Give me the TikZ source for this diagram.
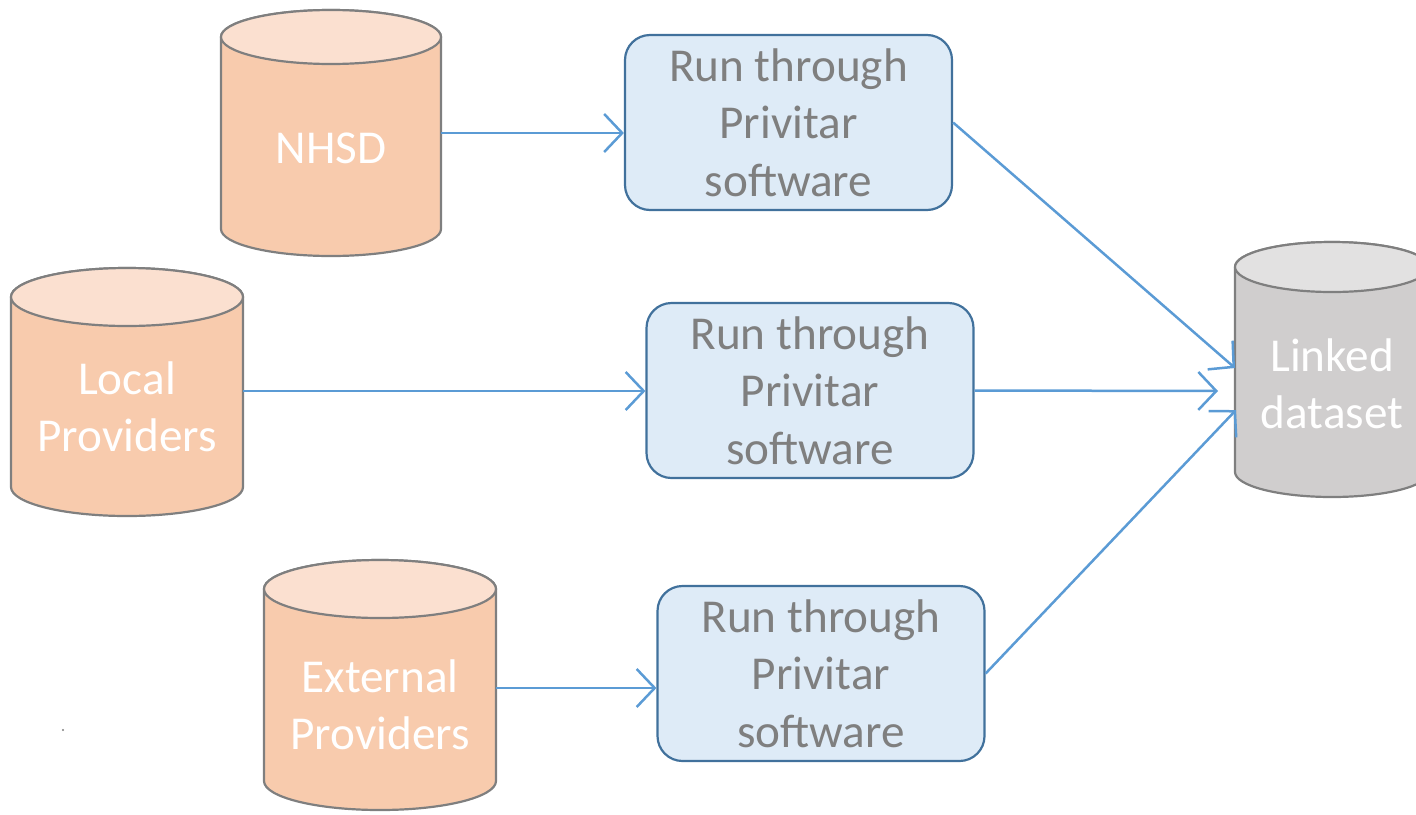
\documentclass[tikz,border=0pt]{standalone}
\usepackage{fontspec}
\setmainfont{Carlito}
\usetikzlibrary{arrows.meta,calc}
\definecolor{peach}{HTML}{F8CBAD}
\definecolor{peachtop}{HTML}{FBE0D0}
\definecolor{greybody}{HTML}{D0CECE}
\definecolor{greytop}{HTML}{E2E1E1}
\definecolor{cylline}{HTML}{7F7F7F}
\definecolor{boxfill}{HTML}{DEEBF7}
\definecolor{boxline}{HTML}{41719C}
\definecolor{arrowc}{HTML}{5B9BD5}
\definecolor{txtgrey}{HTML}{7F7F7F}
% #1 cx, #2 ytop, #3 ybot, #4 rx, #5 ry, #6 body, #7 top
\newcommand\mycyl[7]{%
  \filldraw[fill=#6,draw=cylline,line width=1.1pt]
    ({#1-#4},{-#2}) -- ({#1-#4},{-#3})
    arc[start angle=180,end angle=360,x radius=#4,y radius=#5]
    -- ({#1+#4},{-#2})
    arc[start angle=0,end angle=180,x radius=#4,y radius=#5] -- cycle;
  \filldraw[fill=#7,draw=cylline,line width=1.1pt] (#1,{-#2}) ellipse[x radius=#4,y radius=#5];
}
\tikzset{
  pbox/.style={draw=boxline,fill=boxfill,line width=1.1pt,rounded corners=12.5pt,
    minimum width=163.5pt,minimum height=87.5pt,align=center,inner sep=0pt,
    text=txtgrey,font=\fontsize{23.6}{28.75}\selectfont},
  cyltext/.style={align=center,text=white,inner sep=0pt,font=\fontsize{23.6}{28.75}\selectfont},
  cylarea/.style={inner sep=0pt,outer sep=0pt},
  conn/.style={draw=arrowc,line width=1.25pt,-{Straight Barb[length=9pt,width=19pt,line width=1.25pt]}},
}
\begin{document}
\begin{tikzpicture}[x=0.5pt,y=0.5pt]
\useasboundingbox (0,0) rectangle (1416,-814);
\clip (0,0) rectangle (1416,-814);
% cylinders
\mycyl{331}{37}{229}{110}{27}{peach}{peachtop}
\mycyl{127}{297}{487}{116}{29}{peach}{peachtop}
\mycyl{380}{589}{781}{116}{29}{peach}{peachtop}
\mycyl{1332}{267}{472}{97}{25}{greybody}{greytop}
% named areas of the cylinders
\node[cylarea,minimum width=110pt,minimum height=123pt] (nhsd) at (331,-133) {};
\node[cylarea,minimum width=116pt,minimum height=123pt] (local) at (127,-391) {};
\node[cylarea,minimum width=116pt,minimum height=123pt] (ext) at (380,-688) {};
\node[cylarea,minimum width=97pt,minimum height=128pt] (linked) at (1332,-368) {};
% cylinder texts
\node[cyltext] (tnhsd) at (331,-148) {NHSD};
\node[cyltext] (tlocal) at (127,-407) {Local\\Providers};
\node[cyltext] (text) at (380,-705) {External\\Providers};
\node[cyltext] (tlinked) at (1332,-384) {Linked\\dataset};
% process boxes
\node[pbox] (b1) at (788.5,-122.5) {Run through\\Privitar\\software};
\node[pbox] (b2) at (810,-390.5) {Run through\\Privitar\\software};
\node[pbox] (b3) at (821,-673.5) {Run through\\Privitar\\software};
% connector ends
\coordinate (l2) at (1218,-391);
\coordinate (l3) at (1236,-410);
% connectors
\draw[conn] (nhsd.east) -- (nhsd.east -| b1.west);
\draw[conn] (local.east) -- (local.east -| b2.west);
\draw[conn] (ext.east) -- (ext.east -| b3.west);
\draw[conn] (b1.east) -- (linked.west);
\draw[conn] (b2.east) -- (l2);
\draw[conn] (b3.east) -- (l3);
% tiny dot
\fill[cylline] (63,-730) circle[radius=1.2];
\end{tikzpicture}
\end{document}
